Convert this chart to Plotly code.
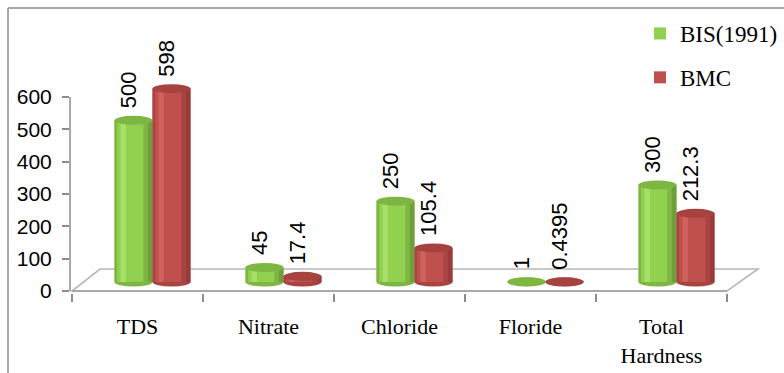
import plotly.graph_objects as go

# ---- data -------------------------------------------------------------
categories = ["TDS", "Nitrate", "Chloride", "Floride", "Total<br>Hardness"]
bis_1991 = [500, 45, 250, 1, 300]
bmc = [598, 17.4, 105.4, 0.4395, 212.3]
bis_text = ["500", "45", "250", "1", "300"]
bmc_text = ["598", "17.4", "105.4", "0.4395", "212.3"]
y_ticks = [0, 100, 200, 300, 400, 500, 600]

# ---- geometry (pixels) --------------------------------------------------
W, H = 784, 373
PL, PR, PT, PB = 70, 768, 40, 293          # plot area edges
Y0_PX, Y600_PX = 291, 97                   # axis: value 0 and 600
S = (Y0_PX - Y600_PX) / 600.0              # px per unit
BAR_BASE_PX = 282                          # cylinders stand mid-floor
CAT_PX = 131.0                             # px per category
X_START_PX = 72                            # left edge of first category
DEPTH_SHIFT_PX = 15                        # cylinders sit behind the front edge

y_range = [-(PB - Y0_PX) / S, 600 + (Y600_PX - PT) / S]
y_off = (Y0_PX - BAR_BASE_PX) / S
y2_range = [y_range[0] - y_off, y_range[1] - y_off]

x_lo = -0.5 - (X_START_PX - PL) / CAT_PX
x_range = [x_lo, x_lo + (PR - PL) / CAT_PX]
x_off = DEPTH_SHIFT_PX / CAT_PX
x2_range = [x_range[0] - x_off, x_range[1] - x_off]

def px(xp):
    return (xp - PL) / (PR - PL)

def py(yp):
    return (PB - yp) / (PB - PT)

BW = 0.29                                   # bar width in category units
EH = 4.5 / S                                # half height of the end ellipses

series = [
    dict(name="BIS(1991)", group="bis", vals=bis_1991, text=bis_text, off=-BW,
         body="#92D050", light="#A6E068", dark="#6F9F38", edge="#7FB545", top="#7DB640"),
    dict(name="BMC", group="bmc", vals=bmc, text=bmc_text, off=0.0,
         body="#C0504D", light="#D0625E", dark="#973C3A", edge="#A84542", top="#A64340"),
]

fig = go.Figure()
idx = list(range(len(categories)))
shapes = []
annotations = []

# floor of the 3-D plot
fl_back = (Y0_PX - 269) / S
shapes.append(dict(
    type="path", xref="x", yref="y", layer="below",
    path=(f"M{-0.5},{0} L{4.5},{0} L{4.5 + 31 / CAT_PX},{fl_back} "
          f"L{-0.5 + 28 / CAT_PX},{fl_back} Z"),
    fillcolor="white", line=dict(color="#B8B8B8", width=1.6)))
shapes.append(dict(type="line", xref="x", yref="y", layer="below",
                   x0=-0.5, x1=4.5, y0=0, y1=0,
                   line=dict(color="#A9A9A9", width=2.2)))

for s in series:
    vals = s["vals"]
    # cylinder body
    fig.add_trace(go.Bar(x=idx, y=vals, xaxis="x2", yaxis="y2", name=s["name"],
                         legendgroup=s["group"],
                         width=BW, offset=s["off"], marker=dict(color=s["body"], line_width=0),
                         hoverinfo="skip"))
    # shading bands across the cylinder
    bands = [(0.0, 0.07, s["edge"]), (0.16, 0.30, s["light"]), (0.76, 0.88, s["edge"]),
             (0.88, 1.0, s["dark"])]
    for a, b, c in bands:
        fig.add_trace(go.Bar(x=idx, y=vals, xaxis="x2", yaxis="y2", showlegend=False,
                             legendgroup=s["group"],
                             width=BW * (b - a), offset=s["off"] + BW * a,
                             marker=dict(color=c, line_width=0), hoverinfo="skip"))
    for i, v in zip(idx, vals):
        x0 = i + s["off"]
        x1 = x0 + BW
        # rounded bottom
        shapes.append(dict(type="circle", xref="x2", yref="y2", layer="below",
                           x0=x0, x1=x1, y0=-EH, y1=EH,
                           fillcolor=s["edge"], line_width=0))
        # top cap
        shapes.append(dict(type="circle", xref="x2", yref="y2", layer="above",
                           x0=x0, x1=x1, y0=v - EH, y1=v + EH,
                           fillcolor=s["top"], line_width=0))
    for i, v, t in zip(idx, vals, s["text"]):
        annotations.append(dict(
            x=i + s["off"] + BW / 2, y=v, xref="x2", yref="y2", text=t,
            textangle=-90, showarrow=False, xanchor="center", yanchor="bottom",
            yshift=10, xshift=-5,
            font=dict(family="Liberation Sans", size=22, color="black")))

# value axis line
shapes.append(dict(type="line", xref="paper", yref="y", x0=0, x1=0, y0=0, y1=600,
                   line=dict(color="#8C8C8C", width=1.5)))
# chart frame
shapes.append(dict(type="line", xref="paper", yref="paper",
                   x0=px(8), x1=px(W + 5), y0=py(8), y1=py(8),
                   line=dict(color="#A8A8A8", width=2)))
shapes.append(dict(type="line", xref="paper", yref="paper",
                   x0=px(8), x1=px(8), y0=py(8), y1=py(H + 5),
                   line=dict(color="#A8A8A8", width=2)))

fig.update_layout(
    width=W, height=H,
    margin=dict(l=PL, r=W - PR, t=PT, b=H - PB, pad=0, autoexpand=False),
    paper_bgcolor="white", plot_bgcolor="white",
    barmode="overlay",
    showlegend=True,
    legend=dict(x=px(640), y=py(12), xanchor="left", yanchor="top",
                font=dict(family="Liberation Serif", size=23, color="black"),
                traceorder="grouped", tracegroupgap=11, bgcolor="rgba(0,0,0,0)",
                itemclick=False, itemdoubleclick=False),
    xaxis=dict(range=x_range, tickmode="array", tickvals=idx, ticktext=categories,
               ticks="", showgrid=False, zeroline=False, showline=False,
               ticklabelstandoff=18, automargin=False,
               tickfont=dict(family="Liberation Serif", size=22, color="black"),
               minor=dict(tick0=-0.5, dtick=1, ticks="outside", ticklen=8,
                          tickcolor="#8C8C8C", tickwidth=1.5, showgrid=False)),
    yaxis=dict(range=y_range, tickmode="array", tickvals=y_ticks, ticks="outside",
               ticklen=7, tickcolor="#8C8C8C", tickwidth=1.5, showgrid=False,
               zeroline=False, showline=False, ticklabelstandoff=6, automargin=False,
               tickfont=dict(family="Liberation Sans", size=21, color="black")),
    xaxis2=dict(range=x2_range, overlaying="x", visible=False),
    yaxis2=dict(range=y2_range, overlaying="y", visible=False),
    shapes=shapes,
    annotations=annotations,
)

fig.write_html("out.html")
